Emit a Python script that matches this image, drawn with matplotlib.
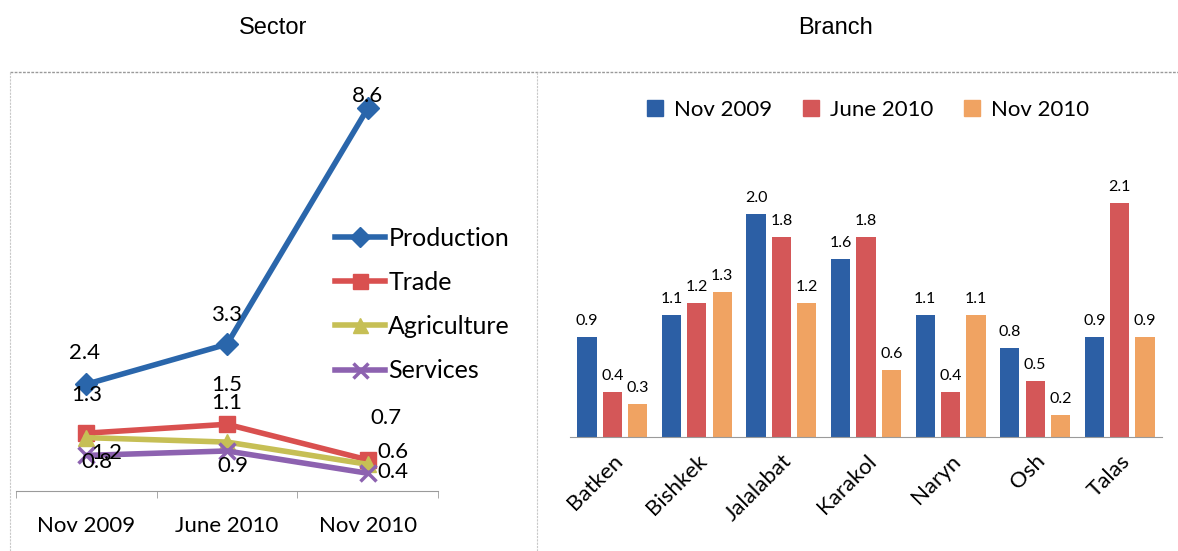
import matplotlib
matplotlib.use("Agg")
import matplotlib.pyplot as plt
from matplotlib.lines import Line2D
from matplotlib.patches import Patch
import numpy as np

plt.rcParams['font.family'] = ['Lato', 'DejaVu Sans']

# sector data (line chart)
periods = ['Nov 2009', 'June 2010', 'Nov 2010']
production = [2.4, 3.3, 8.6]
trade = [1.3, 1.5, 0.7]
agriculture = [1.2, 1.1, 0.6]
services = [0.8, 0.9, 0.4]

# branch data (bar chart)
branches = ['Batken', 'Bishkek', 'Jalalabat', 'Karakol', 'Naryn', 'Osh', 'Talas']
nov_2009 = [0.9, 1.1, 2.0, 1.6, 1.1, 0.8, 0.9]
june_2010 = [0.4, 1.2, 1.8, 1.8, 0.4, 0.5, 2.1]
nov_2010 = [0.3, 1.3, 1.2, 0.6, 1.1, 0.2, 0.9]

W, H = 1178, 551
fig = plt.figure(figsize=(W / 100, H / 100), dpi=100)


def box(l, t, r, b):
    return [l / W, 1 - b / H, (r - l) / W, (b - t) / H]


# panel frames
gray = '#9a9a9a'
fig.add_artist(Line2D([10 / W, 1], [1 - 72 / H] * 2, color=gray, lw=1, ls=(0, (2, 1))))
fig.add_artist(Line2D([10 / W] * 2, [0, 1 - 72 / H], color='#c8c8c8', lw=0.8, ls=(0, (2, 1))))
fig.add_artist(Line2D([537 / W] * 2, [0, 1 - 72 / H], color='#c8c8c8', lw=0.8, ls=(0, (2, 1))))

fig.text(273 / W, 1 - 28 / H, 'Sector', ha='center', va='center', fontsize=17,
         family='Liberation Sans')
fig.text(836 / W, 1 - 28 / H, 'Branch', ha='center', va='center', fontsize=17,
         family='Liberation Sans')

# ---- sector lines ----
ax1 = fig.add_axes(box(16, 72, 438, 491))
x = np.arange(len(periods))
series = [
    ('Production', production, '#2a66ab', 'D', 11),
    ('Trade', trade, '#d9504f', 's', 12),
    ('Agriculture', agriculture, '#c6bf55', '^', 12),
    ('Services', services, '#8d62b0', 'x', 12),
]
for name, vals, col, mk, ms in series:
    ax1.plot(x, vals, color=col, lw=4, marker=mk, ms=ms, mew=2.5 if mk == 'x' else 1,
             mec=col, mfc=col, label=name)

# label offsets in pixels per point
offsets = {
    'Production': [(-2, 31), (0, 29), (0, 12)],
    'Trade': [(0, 38), (0, 39), (18, 42)],
    'Agriculture': [(20, -15), (0, 39), (25, 12)],
    'Services': [(11, -7), (6, -15), (25, 1)],
}
for name, vals, col, mk, ms in series:
    for i, v in enumerate(vals):
        dx, dy = offsets[name][i]
        ax1.annotate(f'{v:.1f}', (x[i], v), xytext=(dx, dy), textcoords='offset pixels',
                     ha='center', va='center', fontsize=16)

ax1.set_xlim(-0.5, 2.5)
ax1.set_ylim(0, 9.42)
ax1.set_xticks(x)
ax1.set_xticklabels(periods, fontsize=16)
ax1.set_xticks([-0.5, 0.5, 1.5, 2.5], minor=True)
ax1.tick_params(axis='x', which='major', length=0, pad=18)
ax1.tick_params(axis='x', which='minor', length=5, color=gray)
ax1.set_yticks([])
for s in ['top', 'right', 'left']:
    ax1.spines[s].set_visible(False)
ax1.spines['bottom'].set_color(gray)
ax1.patch.set_alpha(0)
ax1.legend(loc='upper left', bbox_to_anchor=(322 / W, 1 - 214 / H),
           bbox_transform=fig.transFigure, frameon=False, fontsize=18, markerscale=0.9,
           handlelength=2.0, handletextpad=0.15, labelspacing=0.85, borderpad=0)

# ---- branch bars ----
ax2 = fig.add_axes(box(570, 181, 1162, 437))
xb = np.arange(len(branches))
step = 0.30
bw = 0.228
bar_sets = [
    ('Nov 2009', nov_2009, '#2c5fa5'),
    ('June 2010', june_2010, '#d45758'),
    ('Nov 2010', nov_2010, '#f0a362'),
]
for k, (name, vals, col) in enumerate(bar_sets):
    pos = xb + (k - 1) * step
    ax2.bar(pos, vals, width=bw, color=col, label=name)
    for p, v in zip(pos, vals):
        ax2.annotate(f'{v:.1f}', (p, v), xytext=(0, 9), textcoords='offset pixels',
                     ha='center', va='bottom', fontsize=11.5)

ax2.set_xlim(-0.5, 6.5)
ax2.set_ylim(0, 2.3)
ax2.set_yticks([])
ax2.set_xticks(xb)
ax2.set_xticklabels(branches, rotation=45, ha='right', rotation_mode='anchor', fontsize=16)
ax2.tick_params(axis='x', length=0, pad=10)
for s in ['top', 'right', 'left']:
    ax2.spines[s].set_visible(False)
ax2.spines['bottom'].set_color(gray)
ax2.patch.set_alpha(0)

handles = [Patch(color=c) for _, _, c in bar_sets]
fig.legend(handles, [n for n, _, _ in bar_sets], loc='center',
           bbox_to_anchor=(868 / W, 1 - 110 / H), ncol=3, frameon=False, fontsize=16,
           handlelength=0.7, handleheight=0.7, handletextpad=0.5, columnspacing=1.4)

fig.savefig('out.png', dpi=100)
